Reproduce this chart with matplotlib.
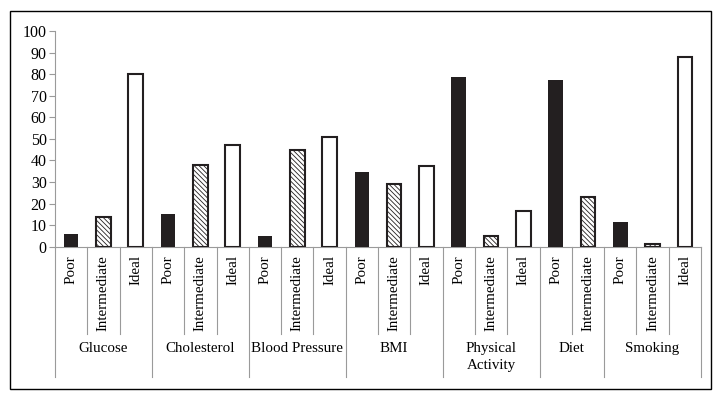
import matplotlib
matplotlib.use("Agg")
import matplotlib.pyplot as plt
from matplotlib.patches import Rectangle
import matplotlib.transforms as mtransforms

plt.rcParams["font.family"] = ["Liberation Serif", "DejaVu Serif"]
plt.rcParams["hatch.linewidth"] = 0.6

# -------------------------
# data
# -------------------------
categories = ["Glucose", "Cholesterol", "Blood Pressure", "BMI",
              "Physical\nActivity", "Diet", "Smoking"]
levels = [
    ["Poor", "Intermediate", "Ideal"],
    ["Poor", "Intermediate", "Ideal"],
    ["Poor", "Intermediate", "Ideal"],
    ["Poor", "Intermediate", "Ideal"],
    ["Poor", "Intermediate", "Ideal"],
    ["Poor", "Intermediate"],
    ["Poor", "Intermediate", "Ideal"],
]
values = [
    [5.7, 13.9, 80.2],
    [15.1, 38.0, 47.3],
    [5.0, 44.8, 50.7],
    [34.5, 28.9, 37.3],
    [78.7, 5.1, 16.7],
    [77.3, 23.2],
    [11.4, 1.1, 88.1],
]

GRAY = "#9a9a9a"
DARK = "#231f20"

fig = plt.figure(figsize=(7.21, 3.99), dpi=100)
W, H = 721, 399
ax = fig.add_axes([55 / W, (H - 246.7) / H, 646 / W, 215.7 / H])

styles = {
    "Poor": dict(color=DARK, edgecolor="none"),
    "Intermediate": dict(color="white", edgecolor=DARK, hatch="\\\\\\\\\\\\\\", linewidth=1.5),
    "Ideal": dict(color="white", edgecolor=DARK, linewidth=1.5),
}

trans = mtransforms.blended_transform_factory(ax.transData, ax.transAxes)

pos = 0
bounds = [0]
for cat, levs, vals in zip(categories, levels, values):
    start = pos
    for lev, v in zip(levs, vals):
        x = pos + 0.5
        ax.bar(x, v, width=0.45, **styles[lev], zorder=3)
        ax.text(x, -0.04, lev, rotation=90, ha="center", va="top",
                fontsize=10.8, transform=trans)
        if pos > start:
            ax.plot([pos, pos], [0, -0.405], color=GRAY, lw=0.8,
                    transform=trans, clip_on=False)
        pos += 1
    ax.text((start + pos) / 2, -0.44, cat, ha="center", va="top",
            fontsize=10.8, transform=trans, linespacing=1.45)
    bounds.append(pos)

for b in bounds:
    ax.plot([b, b], [0, -0.605], color=GRAY, lw=0.8,
            transform=trans, clip_on=False)

ax.set_xlim(0, pos)
ax.set_ylim(0, 100)
ax.set_yticks(range(0, 101, 10))
ax.set_xticks([])
ax.tick_params(axis="y", direction="out", length=4, color=GRAY,
               labelsize=11.5, pad=2)
for s in ["top", "right"]:
    ax.spines[s].set_visible(False)
for s in ["left", "bottom"]:
    ax.spines[s].set_color(GRAY)
    ax.spines[s].set_linewidth(0.8)

# outer frame
fig.patches.append(Rectangle((9.5 / W, 1 - 389 / H), (711 - 9.5) / W,
                             (389 - 11) / H, fill=False, edgecolor="black",
                             lw=1, transform=fig.transFigure))

fig.savefig("out.png", dpi=100)
